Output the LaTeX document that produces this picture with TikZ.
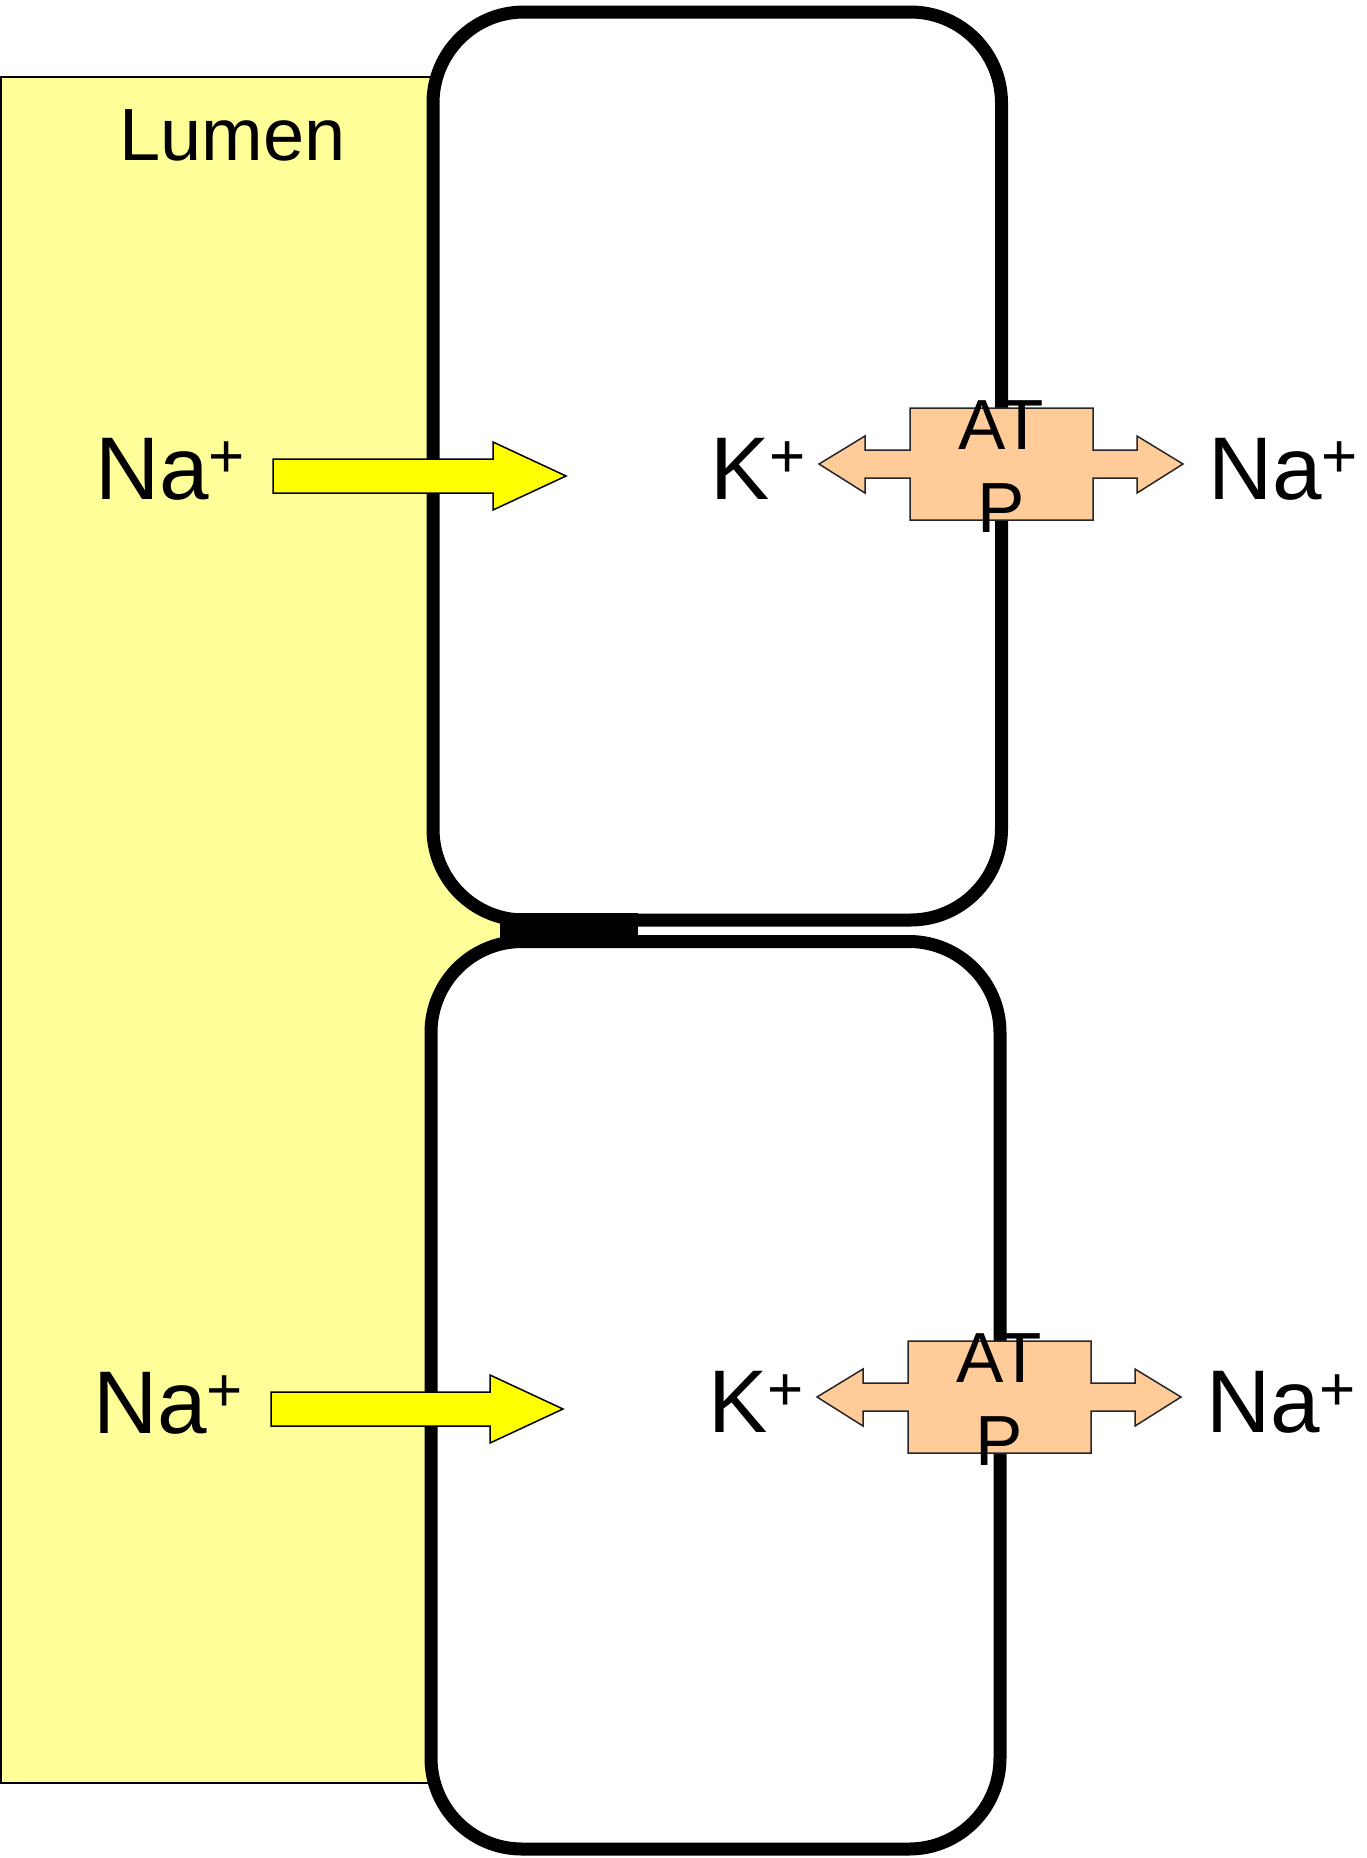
\documentclass[tikz,border=0pt]{standalone}
\usepackage{fontspec}
\setmainfont{Liberation Sans}
\definecolor{lumenyellow}{HTML}{FFFF99}
\definecolor{arrowyellow}{HTML}{FFFF00}
\definecolor{pumppeach}{HTML}{FFCC99}
\newcommand\ionplus{\raisebox{22pt}{\fontsize{62}{62}\selectfont +}}
\begin{document}
\begin{tikzpicture}[x=1pt,y=-1pt,
  iontext/.style={inner sep=0pt,outer sep=0pt,font=\fontsize{89}{89}\selectfont},
  atptext/.style={inner sep=0pt,outer sep=0pt,font=\fontsize{71}{71}\selectfont},
  cellwall/.style={draw=black,fill=white,line width=13pt,rounded corners=91pt},
  thinborder/.style={draw=black,line width=1.5pt,line join=miter},
  pumpshape/.style={thinborder,draw=black!85,fill=pumppeach},
  naarrow/.style={thinborder,fill=arrowyellow}]
\useasboundingbox (0,0) rectangle (1366,1858);
% lumen
\path[thinborder,fill=lumenyellow] (0.75,77) rectangle (560,1783);
\node[inner sep=0pt,outer sep=0pt,font=\fontsize{74}{74}\selectfont,anchor=base] (lumen) at (232.5,160) {Lumen};
% cells
\path[cellwall] (433,12) rectangle (1001.5,920);
\path[cellwall] (431,941.5) rectangle (1000,1849);
% tight junction
\fill[black] (500,913) rectangle (638,948);
% Na+ entry arrows
\path[naarrow] (273,459) -- (493,459) -- (493,442) -- (566,476) -- (493,510) -- (493,493) -- (273,493) -- cycle;
\path[naarrow] (271,1392) -- (490,1392) -- (490,1375) -- (563,1409) -- (490,1443) -- (490,1426) -- (271,1426) -- cycle;
% ATPase pumps
\foreach \dx/\dy in {0/0,-2/933}{
\begin{scope}[shift={(\dx,\dy)}]
\path[pumpshape] (819,464) -- (865,436) -- (865,450) -- (910,450) -- (910,408) -- (1093,408)
  -- (1093,450) -- (1137,450) -- (1137,436) -- (1183,464) -- (1137,493) -- (1137,478)
  -- (1093,478) -- (1093,520) -- (910,520) -- (910,478) -- (865,478) -- (865,493) -- cycle;
\end{scope}}
% texts, upper cell
\node[iontext,anchor=base west] (naL1) at (95,499) {Na\ionplus};
\node[iontext,anchor=base west] (k1) at (710,499) {K\ionplus};
\node[iontext,anchor=base west] (naR1) at (1208,499) {Na\ionplus};
\node[atptext,anchor=base] (atpA1) at (1001.5,449) {AT};
\node[atptext,anchor=base] (atpB1) at (1001.5,532) {P};
% texts, lower cell
\node[iontext,anchor=base west] (naL2) at (93,1433) {Na\ionplus};
\node[iontext,anchor=base west] (k2) at (708,1432) {K\ionplus};
\node[iontext,anchor=base west] (naR2) at (1206,1432) {Na\ionplus};
\node[atptext,anchor=base] (atpA2) at (999.5,1382) {AT};
\node[atptext,anchor=base] (atpB2) at (999.5,1465) {P};
\end{tikzpicture}
\end{document}
